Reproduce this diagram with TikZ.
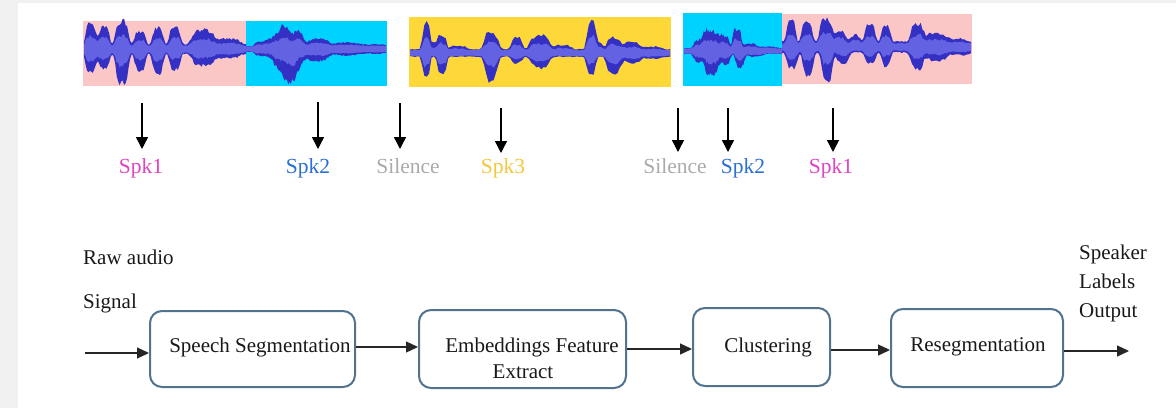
\documentclass[tikz,border=0pt]{standalone}
\usepackage{fontspec}
\setmainfont{Liberation Serif}
\usetikzlibrary{arrows.meta}
\definecolor{bggray}{HTML}{F0F0F0}
\definecolor{segpink}{HTML}{FAC6C6}
\definecolor{segcyan}{HTML}{00D2FF}
\definecolor{segyellow}{HTML}{FED838}
\definecolor{wavedark}{HTML}{3430C4}
\definecolor{wavelight}{HTML}{6262E2}
\definecolor{spkmag}{HTML}{E044C0}
\definecolor{spkblue}{HTML}{2A6FD6}
\definecolor{spkgray}{HTML}{ABABAB}
\definecolor{spkyel}{HTML}{F2C83E}
\definecolor{boxline}{HTML}{52738E}
\newcommand{\wavedraw}[5]{%
  \fill[wavedark] plot[domain=#1:#2,samples=110] (\x,{#3-(#4)*(0.8+0.22*rnd)})
    -- plot[domain=#2:#1,samples=110] (\x,{#3+(#5)*(0.8+0.22*rnd)}) -- cycle;
  \fill[wavelight] plot[domain=#1:#2,samples=110] (\x,{#3-1.2-(#4)*(0.34+0.14*rnd)})
    -- plot[domain=#2:#1,samples=110] (\x,{#3+1.2+(#5)*(0.34+0.14*rnd)}) -- cycle;
}
\begin{document}
\begin{tikzpicture}[x=1pt,y=-1pt,
  declare function={p(\t,\c,\w,\h)=\h*exp(-(min(((\t-\c)/\w)^2,6))^2);},
  txt/.style={font=\fontsize{21}{25}\selectfont, inner sep=0pt, text=black!90},
  lbl/.style={font=\fontsize{21.5}{25}\selectfont, inner sep=0pt, anchor=base},
  stagebox/.style={draw=boxline, line width=2pt, rounded corners=12pt, fill=white, inner sep=0pt},
  downarr/.style={draw=black, line width=1.4pt, -{Triangle[length=12pt,width=12pt]}},
  flowarr/.style={draw=black!85, line width=1.3pt, -{Triangle[length=12pt,width=11pt]}}]
\pgfmathsetseed{7}
\useasboundingbox (0,0) rectangle (1176,408);
\fill[bggray] (0,0) rectangle (1176,408);
\fill[white] (18,3) rectangle (1176,408);

% segment backgrounds
\fill[segpink] (83,21) rectangle (246,86);
\fill[segcyan] (246,21) rectangle (387,86);
\fill[segyellow] (409,17) rectangle (671,87);
\fill[segcyan] (683,13) rectangle (782,86);
\fill[segpink] (782,14) rectangle (972,84);

% waveforms
\wavedraw{84}{246}{49}
 {5+p(\x,91,6,22)+p(\x,104,6,19)+p(\x,122,7,25)+p(\x,140,6,14)+p(\x,158,6,18)+p(\x,175,6,20)+p(\x,203,12,16)+p(\x,228,13,6)}
 {5+p(\x,91,6,21)+p(\x,104,6,17)+p(\x,122,7,32)+p(\x,140,6,18)+p(\x,158,6,21)+p(\x,175,6,17)+p(\x,203,12,13)+p(\x,228,13,5)}
\wavedraw{246}{386}{49}
 {3+p(\x,262,8,5)+p(\x,285,16,15)+p(\x,284,4,8)+p(\x,300,5,8)+p(\x,318,12,8)+p(\x,345,14,4)+p(\x,372,16,2)}
 {3+p(\x,262,8,5)+p(\x,288,16,23)+p(\x,290,6,10)+p(\x,318,12,10)+p(\x,345,14,4)+p(\x,372,16,2)}
\wavedraw{410}{670}{53}
 {4+p(\x,426,4,26)+p(\x,432,7,7)+p(\x,442,5,16)+p(\x,458,9,4)+p(\x,491,8,18)+p(\x,517,6,13)+p(\x,540,11,15)+p(\x,563,9,5)+p(\x,591,5,26)+p(\x,597,6,9)+p(\x,614,8,13)+p(\x,632,9,8)+p(\x,652,10,3)}
 {4+p(\x,426,4,25)+p(\x,442,5,20)+p(\x,491,7,26)+p(\x,517,6,7)+p(\x,540,10,12)+p(\x,591,5,20)+p(\x,614,8,18)+p(\x,632,9,7)+p(\x,652,10,2)}
\wavedraw{684}{782}{51}
 {3+p(\x,700,7,9)+p(\x,712,9,18)+p(\x,725,5,13)+p(\x,737,5,21)+p(\x,750,7,5)+p(\x,766,11,2)}
 {3+p(\x,700,7,9)+p(\x,712,7,24)+p(\x,725,6,11)+p(\x,740,5,15)+p(\x,755,9,3)}
\wavedraw{782}{971}{47}
 {6+p(\x,791,5,24)+p(\x,807,6,20)+p(\x,826,7,26)+p(\x,840,6,13)+p(\x,855,6,7)+p(\x,870,6,18)+p(\x,886,5,18)+p(\x,917,7,20)+p(\x,936,12,9)+p(\x,958,9,3)}
 {6+p(\x,792,6,18)+p(\x,808,6,24)+p(\x,827,6,33)+p(\x,843,7,12)+p(\x,870,6,12)+p(\x,886,5,14)+p(\x,917,7,18)+p(\x,937,12,9)+p(\x,960,9,3)}

% speaker labels
\node[lbl, text=spkmag]  (l1) at (141,173) {Spk1};
\node[lbl, text=spkblue] (l2) at (308,173) {Spk2};
\node[lbl, text=spkgray] (l3) at (408,173) {Silence};
\node[lbl, text=spkyel]  (l4) at (503,173) {Spk3};
\node[lbl, text=spkgray] (l5) at (675,173) {Silence};
\node[lbl, text=spkblue] (l6) at (743,173) {Spk2};
\node[lbl, text=spkmag]  (l7) at (831,173) {Spk1};

% down arrows
\coordinate (d1s) at (142,103); \coordinate (d1e) at (142,149);
\coordinate (d2s) at (318,102); \coordinate (d2e) at (318,149);
\coordinate (d3s) at (400,103); \coordinate (d3e) at (400,149);
\coordinate (d4s) at (501,108); \coordinate (d4e) at (501,153);
\coordinate (d5s) at (678,108); \coordinate (d5e) at (678,152);
\coordinate (d6s) at (728,108); \coordinate (d6e) at (728,152);
\coordinate (d7s) at (833,108); \coordinate (d7e) at (833,152);
\foreach \i in {1,...,7} { \draw[downarr] (d\i s) -- (d\i e); }

% pipeline
\node[txt, anchor=base west] (raw) at (83,264) {Raw audio};
\node[txt, anchor=base west] (sig) at (83,308) {Signal};

\node[stagebox, minimum width=205pt, minimum height=76pt] (b1) at (252.5,349) {};
\node[stagebox, minimum width=207pt, minimum height=78pt] (b2) at (522.5,349) {};
\node[stagebox, minimum width=137pt, minimum height=78pt] (b3) at (761.5,347) {};
\node[stagebox, minimum width=172pt, minimum height=78pt] (b4) at (977,348) {};

\node[txt, anchor=base] (t1) at (260,352) {Speech Segmentation};
\node[txt, anchor=base] (t2) at (532,352) {Embeddings Feature};
\node[txt, anchor=base] (t2b) at (523,378) {Extract};
\node[txt, anchor=base] (t3) at (768,352) {Clustering};
\node[txt, anchor=base] (t4) at (978,351) {Resegmentation};

\node[txt, anchor=base west] (o1) at (1079,259) {Speaker};
\node[txt, anchor=base west] (o2) at (1079,288) {Labels};
\node[txt, anchor=base west] (o3) at (1079,317) {Output};

\coordinate (in) at (85,353);
\coordinate (out) at (1129,351);
\draw[flowarr] (in) -- (in -| b1.west);
\draw[flowarr] (b1.east |- 0,347) -- (b2.west |- 0,347);
\draw[flowarr] (b2.east |- 0,349) -- (b3.west |- 0,349);
\draw[flowarr] (b3.east |- 0,350) -- (b4.west |- 0,350);
\draw[flowarr] (b4.east |- out) -- (out);
\end{tikzpicture}
\end{document}
